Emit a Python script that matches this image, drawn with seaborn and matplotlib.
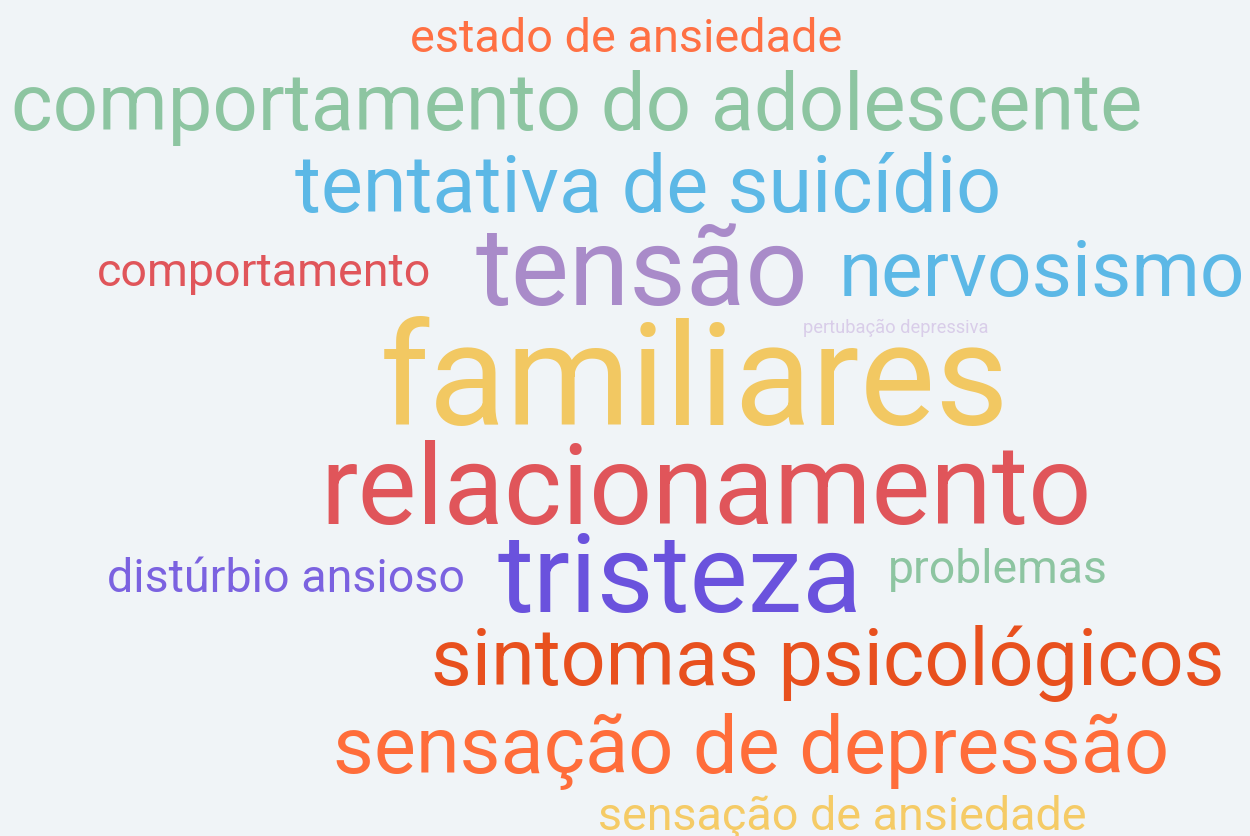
"""Word cloud of anxiety/depression terms, rebuilt with seaborn + matplotlib."""

import matplotlib
matplotlib.use("Agg")
import matplotlib.pyplot as plt
import seaborn as sns

# words shown in the cloud
words = [
    "estado de ansiedade",
    "comportamento do adolescente",
    "tentativa de suicídio",
    "tensão",
    "nervosismo",
    "comportamento",
    "pertubação depressiva",
    "familiares",
    "relacionamento",
    "tristeza",
    "distúrbio ansioso",
    "problemas",
    "sintomas psicológicos",
    "sensação de depressão",
    "sensação de ansiedade",
]

word_colors = [
    "#FF7043", "#8DC5A1", "#5CB8E6", "#A98BC9", "#5CB8E6",
    "#E0555A", "#D9CDE9", "#F2C862", "#E0555A", "#6A52DD",
    "#7B62E0", "#8DC5A1", "#E8501E", "#FF6D3A", "#F5CB66",
]

# layout (pixels): left edge, right edge, baseline
left_px = [410, 10, 295, 475, 838, 97, 803, 380, 320, 497, 107, 888, 430, 333, 597]
right_px = [843, 1143, 1002, 808, 1245, 432, 988, 1010, 1092, 862, 465, 1108, 1225, 1170, 1087]
baseline_px = [52, 130, 212, 305, 296, 286, 333, 425, 524, 612, 592, 583, 685, 773, 830]

sns.set_theme(style="white")
plt.rcParams["font.family"] = ["Roboto", "DejaVu Sans"]

W, H, DPI = 1250, 836, 100
bg = "#F0F4F7"
fig = plt.figure(figsize=(W / DPI, H / DPI), dpi=DPI, facecolor=bg)
ax = fig.add_axes([0, 0, 1, 1])
ax.set_facecolor(bg)
ax.set_xlim(0, W)
ax.set_ylim(H, 0)
ax.axis("off")

renderer = fig.canvas.get_renderer()
ref_size = 50
for word, color, x0, x1, yb in zip(words, word_colors, left_px, right_px, baseline_px):
    # size each word so it fills its box width
    probe = ax.text(0, 0, word, fontsize=ref_size)
    w_ref = probe.get_window_extent(renderer).width
    probe.remove()
    size = ref_size * (x1 - x0) / w_ref
    ax.text((x0 + x1) / 2, yb, word, fontsize=size, color=color,
            ha="center", va="baseline")

fig.savefig("out.png", dpi=DPI, facecolor=bg)
